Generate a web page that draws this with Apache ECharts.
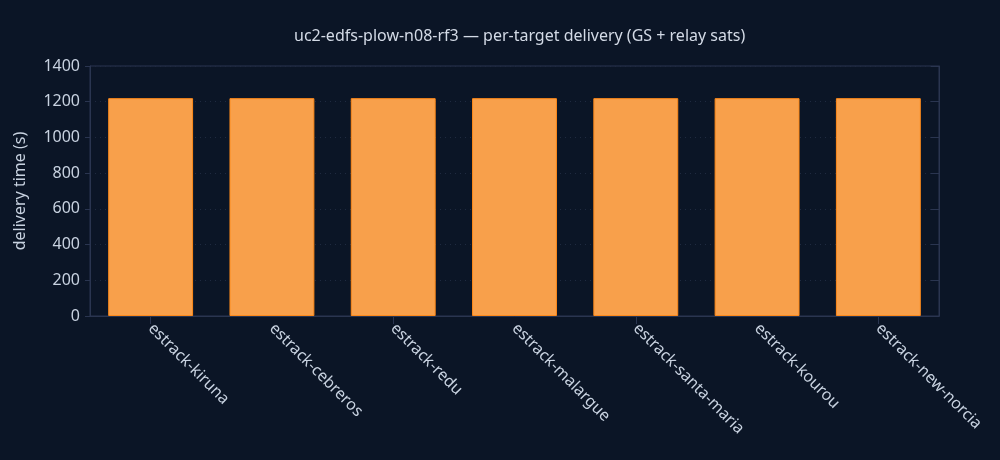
<!DOCTYPE html>
<html><head><meta charset="utf-8">
<script src="https://cdn.jsdelivr.net/npm/echarts@6/dist/echarts.min.js"></script>
<style>html,body{margin:0;padding:0;background:#0b1526;}#c{width:1000px;height:460px;}</style>
</head><body><div id="c"></div>
<script>
const categories = ["estrack-kiruna","estrack-cebreros","estrack-redu","estrack-malargue","estrack-santa-maria","estrack-kourou","estrack-new-norcia"];
const deliveryTime = [1220,1220,1220,1220,1220,1220,1220];
const yTicks = {min:0, max:1400, interval:200};

const font = "'Noto Sans', 'Open Sans', sans-serif";
const frame = '#2a3550';
const chart = echarts.init(document.getElementById('c'));
chart.setOption({
  backgroundColor:'#0b1526',
  animation:false,
  title:{text:'uc2-edfs-plow-n08-rf3 — per-target delivery (GS + relay sats)', left:289, top:23,
    textStyle:{color:'#d3dae6', fontSize:16, fontWeight:'normal', fontFamily:font}},
  grid:{left:90, right:61, top:66, bottom:144, show:true, borderColor:frame, borderWidth:1, backgroundColor:'transparent'},
  xAxis:[{type:'category', data:categories, position:'bottom',
    axisLine:{lineStyle:{color:frame}}, axisTick:{show:false},
    axisLabel:{rotate:-45, color:'#c8d2e0', fontSize:16, fontFamily:font, margin:10}},
   {type:'category', data:categories, position:'top',
    axisLine:{show:true, lineStyle:{color:frame}}, axisTick:{show:true, inside:true, alignWithLabel:true, length:8, lineStyle:{color:frame}},
    axisLabel:{show:false}}],
  yAxis:[{type:'value', min:yTicks.min, max:yTicks.max, interval:yTicks.interval,
    name:'delivery time (s)', nameLocation:'middle', nameGap:62,
    nameTextStyle:{color:'#c8d2e0', fontSize:16, fontFamily:font},
    axisLine:{show:true, lineStyle:{color:frame}}, axisTick:{show:true, length:5, lineStyle:{color:frame}},
    axisLabel:{color:'#c8d2e0', fontSize:16, fontFamily:font, margin:10, formatter:(v)=>String(v)},
    splitLine:{show:true, lineStyle:{color:'#1f2a40', type:[1,4]}}},
   {type:'value', min:yTicks.min, max:yTicks.max, interval:yTicks.interval, position:'right',
    axisLine:{show:true, lineStyle:{color:frame}}, axisTick:{show:true, inside:true, length:8, lineStyle:{color:frame}},
    axisLabel:{show:false}, splitLine:{show:false}}],
  series:[{type:'bar', data:deliveryTime, barCategoryGap:'30%',
    itemStyle:{color:'#f8a04b', borderColor:'#ff8a1a', borderWidth:1}}]
});
</script></body></html>
